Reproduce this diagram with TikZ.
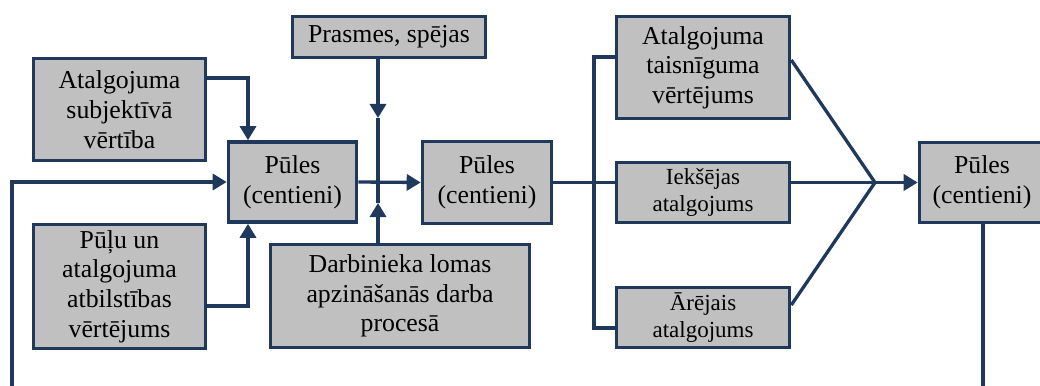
\documentclass[tikz,border=0pt]{standalone}
\usepackage{fontspec}
\setmainfont{Liberation Serif}
\usetikzlibrary{arrows.meta}
\definecolor{navy}{RGB}{31,56,92}
\definecolor{boxgray}{RGB}{192,192,192}
\begin{document}
\begin{tikzpicture}[x=1pt,y=-1pt,
  box/.style={draw=navy, fill=boxgray, line width=3.6pt, inner sep=0pt, align=center,
    font=\fontsize{25.8}{29.7}\selectfont, text=black},
  smallbox/.style={box, font=\fontsize{23}{27}\selectfont},
  conn/.style={draw=navy, line width=3.3pt},
  arr/.style={conn, -{Triangle[length=14pt,width=16pt]}}]
\useasboundingbox (0,0) rectangle (1040,385);
\clip (0,0) rectangle (1040,385);

\node[box, minimum width=172pt, minimum height=102pt] (subj) at (119.5,109.5) {Atalgojuma\\subjektīvā\\vērtība};
\node[box, minimum width=172pt, minimum height=124pt] (pulu) at (119.5,286.5) {Pūļu un\\atalgojuma\\atbilstības\\vērtējums};
\node[box, minimum width=128pt, minimum height=80pt] (pules1) at (292.5,182) {Pūles\\(centieni)};
\node[box, minimum width=193pt, minimum height=41pt] (prasmes) at (389,37) {Prasmes, spējas};
\node[box, minimum width=259pt, minimum height=103pt] (darb) at (400,296) {Darbinieka lomas\\apzināšanās darba\\procesā};
\node[box, minimum width=129pt, minimum height=82pt] (pules2) at (487,182.5) {Pūles\\(centieni)};
\node[box, minimum width=173pt, minimum height=102pt] (taisn) at (703,67.5) {Atalgojuma\\taisnīguma\\vērtējums};
\node[smallbox, minimum width=173pt, minimum height=60pt] (iek) at (703,192.5) {Iekšējas\\atalgojums};
\node[smallbox, minimum width=173pt, minimum height=60pt] (arej) at (703,317.5) {Ārējais\\atalgojums};
\node[box, minimum width=125pt, minimum height=80pt] (pules3) at (982,182.5) {Pūles\\(centieni)};

\coordinate (fbstart) at (12,390);
\coordinate (fbend) at (983,390);
\coordinate (ptop) at (378,118);
\coordinate (pbot) at (378,203);
\coordinate (br) at (594,182.5);
\coordinate (conv) at (875,182.5);

% left inputs
\draw[arr] ([yshift=31.5pt]subj.east) -| ([xshift=-44.5pt]pules1.north);
\draw[arr] ([yshift=-19.5pt]pulu.east) -| ([xshift=-44.5pt]pules1.south);
\draw[arr] (fbstart) |- (pules1.west);
% vertical moderators
\draw[arr] ([xshift=-11pt]prasmes.south) -- (ptop);
\draw[conn] (ptop) -- (pbot);
\draw[arr] ([xshift=-22pt]darb.north) -- (pbot);
% main flow
\draw[arr] (pules1.east) -- (pules2.west);
\draw[conn] (pules2.east) -- ([yshift=10pt]iek.west);
\draw[conn] ([yshift=10.5pt]taisn.west) -| (br) |- ([yshift=-10.5pt]arej.west);
% convergence
\draw[conn] ([yshift=7.5pt]taisn.east) -- (conv);
\draw[conn] ([yshift=10pt]iek.east) -- (conv);
\draw[conn] ([yshift=12.5pt]arej.east) -- (conv);
\draw[arr] (conv) -- (pules3.west);
\draw[conn] ([xshift=1pt]pules3.south) -- (fbend);
\end{tikzpicture}
\end{document}
